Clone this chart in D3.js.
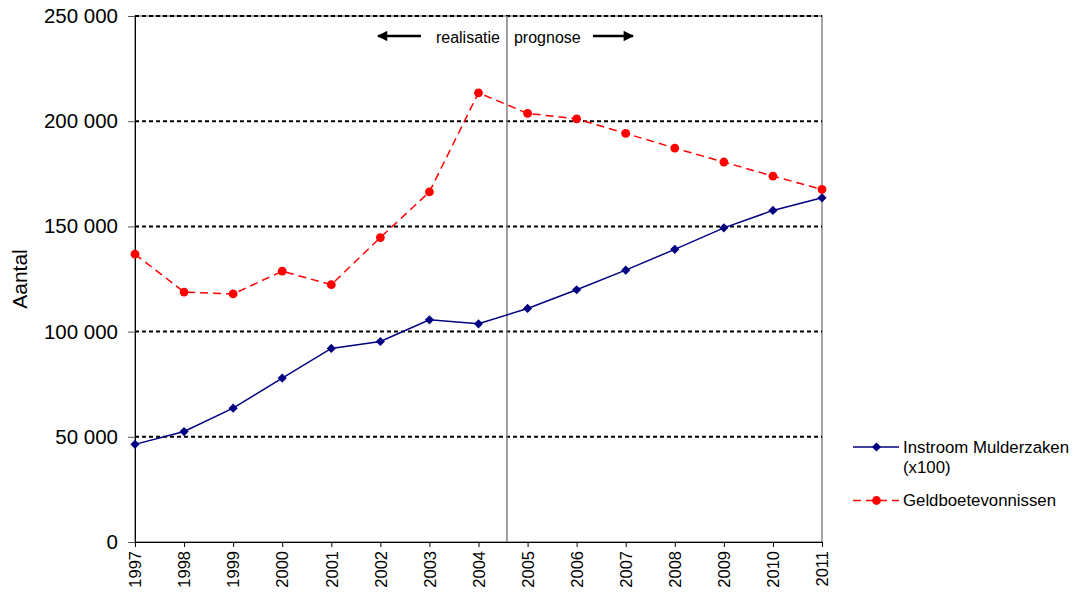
<!DOCTYPE html>
<html><head><meta charset="utf-8">
<script src="https://cdn.jsdelivr.net/npm/d3@7"></script>
<style>body{margin:0;background:#fff}svg{display:block}text{font-family:"Liberation Sans",Arial,sans-serif}</style>
</head><body><svg id="c" width="1079" height="596"></svg>
<script>
const years = [1997,1998,1999,2000,2001,2002,2003,2004,2005,2006,2007,2008,2009,2010,2011];
const instroom = [46400,52500,63600,77900,92000,95300,105600,103700,111000,119900,129200,139100,149300,157600,163600];
const geldboete = [136800,118800,117900,128700,122300,144700,166400,213500,203700,201100,194200,187200,180600,173900,167600];
const yTicks = [0,50000,100000,150000,200000,250000];
const seriesNames = ["Instroom Mulderzaken", "(x100)", "Geldboetevonnissen"];
const divider = 2004.58;

const svg = d3.select("#c");
const L=135, R=822, T=16, B=542;
const x = d3.scaleLinear().domain([1997,2011]).range([L,R]);
const y = d3.scaleLinear().domain([0,250000]).range([B,T]);
const fmt = v => v===0 ? "0" : d3.format(",")(v).replace(/,/g," ");

// plot border (gray)
svg.append("rect").attr("x",L).attr("y",T).attr("width",R-L).attr("height",B-T)
  .attr("fill","none").attr("stroke","#6a6a6a").attr("stroke-width",1.2);

// gridlines
svg.append("g").selectAll("line").data(yTicks.filter(d=>d>0)).join("line")
  .attr("x1",L).attr("x2",R).attr("y1",d=>y(d)).attr("y2",d=>y(d))
  .attr("stroke","#000").attr("stroke-width",2).attr("stroke-dasharray","4,3");

// y axis
const ya = svg.append("g").attr("transform",`translate(${L},0)`)
  .call(d3.axisLeft(y).tickValues(yTicks).tickFormat(fmt).tickSize(7).tickPadding(10));
ya.select(".domain").attr("stroke","#000");
ya.selectAll(".tick line").attr("stroke","#555");
ya.selectAll("text").attr("font-size","20.5px").attr("fill","#000").attr("font-family","Liberation Sans, Arial, sans-serif");

// x axis
const xa = svg.append("g").attr("transform",`translate(0,${B})`)
  .call(d3.axisBottom(x).tickValues(years).tickFormat(d3.format("d")).tickSize(5).tickSizeOuter(0));
xa.select(".domain").attr("stroke","#000");
xa.selectAll(".tick line").attr("stroke","#000");
xa.selectAll("text").attr("font-size","16.5px").attr("fill","#000").attr("font-family","Liberation Sans, Arial, sans-serif")
  .attr("transform","rotate(-90)").attr("text-anchor","end").attr("x",-9).attr("y",0).attr("dy","0.35em");

// axis title
svg.append("text").attr("transform","translate(27,279) rotate(-90)").attr("text-anchor","middle")
  .attr("font-size","21px").text("Aantal");

// divider
svg.append("line").attr("x1",x(divider)).attr("x2",x(divider)).attr("y1",T).attr("y2",B)
  .attr("stroke","#808080").attr("stroke-width",1.5);

// annotations
const dx = x(divider);
svg.append("text").attr("x",dx-7).attr("y",43).attr("text-anchor","end").attr("font-size","16px").text("realisatie");
svg.append("text").attr("x",dx+7).attr("y",43).attr("text-anchor","start").attr("font-size","16px").text("prognose");
svg.append("defs").append("marker").attr("id","ah").attr("viewBox","0 0 10 10").attr("refX",9).attr("refY",5)
  .attr("markerWidth",5.5).attr("markerHeight",4.5).attr("orient","auto-start-reverse")
  .append("path").attr("d","M0,0L10,5L0,10Z").attr("fill","#000");
svg.append("line").attr("x1",dx-86).attr("x2",dx-129).attr("y1",36).attr("y2",36)
  .attr("stroke","#000").attr("stroke-width",2.3).attr("marker-end","url(#ah)");
svg.append("line").attr("x1",dx+86).attr("x2",dx+126).attr("y1",36).attr("y2",36)
  .attr("stroke","#000").attr("stroke-width",2.3).attr("marker-end","url(#ah)");

// series
const line = d3.line().x((d,i)=>x(years[i])).y(d=>y(d));
svg.append("path").datum(instroom).attr("d",line).attr("fill","none").attr("stroke","#000080").attr("stroke-width",1.5);
svg.append("path").datum(geldboete).attr("d",line).attr("fill","none").attr("stroke","#ff0000").attr("stroke-width",1.5).attr("stroke-dasharray","8,5");

const diamond = "M0,-4.6L4.6,0L0,4.6L-4.6,0Z";
svg.append("g").selectAll("path").data(instroom).join("path")
  .attr("transform",(d,i)=>`translate(${x(years[i])},${y(d)})`).attr("d",diamond).attr("fill","#000080");
svg.append("g").selectAll("circle").data(geldboete).join("circle")
  .attr("cx",(d,i)=>x(years[i])).attr("cy",d=>y(d)).attr("r",4.4).attr("fill","#ff0000");

// legend
const lg = svg.append("g");
lg.append("line").attr("x1",853).attr("x2",899).attr("y1",447).attr("y2",447).attr("stroke","#000080").attr("stroke-width",1.5);
lg.append("path").attr("transform","translate(876.5,447)").attr("d",diamond).attr("fill","#000080");
lg.append("text").attr("x",903).attr("y",453).attr("font-size","16.8px").text(seriesNames[0]);
lg.append("text").attr("x",903).attr("y",473).attr("font-size","16.8px").text(seriesNames[1]);
lg.append("line").attr("x1",853).attr("x2",899).attr("y1",500.5).attr("y2",500.5).attr("stroke","#ff0000").attr("stroke-width",1.5).attr("stroke-dasharray","8,5");
lg.append("circle").attr("cx",876.5).attr("cy",500.5).attr("r",4.4).attr("fill","#ff0000");
lg.append("text").attr("x",903).attr("y",506).attr("font-size","16.8px").text(seriesNames[2]);
</script></body></html>
